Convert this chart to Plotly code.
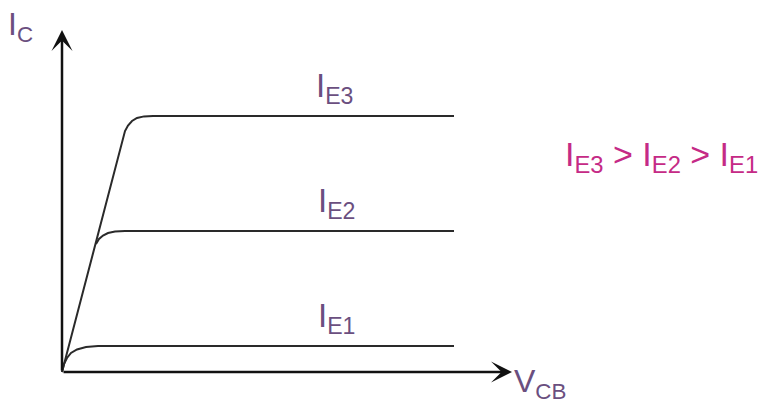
import plotly.graph_objects as go

# Schematic output characteristics (common-base): V_CB on x, I_C on y (arbitrary units)
vcb_e3 = [0, 61, 63, 66, 70, 75, 82, 91, 392]
ic_e3 = [0, 234, 241, 246.5, 251, 254, 255.6, 256, 256]

vcb_e2 = [34, 37, 41, 46, 53, 63, 392]
ic_e2 = [128, 133, 136.5, 139, 140.5, 141, 141]

vcb_e1 = [0, 2, 5, 9, 15, 24, 36, 392]
ic_e1 = [0, 8, 14, 19, 22.5, 25, 26, 26]

curve_labels = ["I<sub>E3</sub>", "I<sub>E2</sub>", "I<sub>E1</sub>"]
label_x = [252, 254, 254]
label_y = [261, 146, 31]

y_label = "I<sub>C</sub>"
x_label = "V<sub>CB</sub>"
order_text = "I<sub>E3</sub> > I<sub>E2</sub> > I<sub>E1</sub>"

x_axis_end = 450
y_axis_end = 342

LINE = "#2a2a2a"
LABEL = "#6b4f7f"
MAGENTA = "#c52a86"
FONT = "Liberation Sans, Arial, sans-serif"

fig = go.Figure()
for xs, ys in [(vcb_e3, ic_e3), (vcb_e2, ic_e2), (vcb_e1, ic_e1)]:
    fig.add_trace(go.Scatter(x=xs, y=ys, mode="lines",
                             line=dict(color=LINE, width=2),
                             hoverinfo="skip", showlegend=False))

# axes with arrowheads
for tx, ty in [(0, y_axis_end), (x_axis_end, 0)]:
    fig.add_annotation(x=tx, y=ty, ax=0, ay=0, xref="x", yref="y",
                       axref="x", ayref="y", showarrow=True, arrowhead=3,
                       arrowsize=1.4, arrowwidth=2.5, arrowcolor="#111", text="")

for t, lx, ly in zip(curve_labels, label_x, label_y):
    fig.add_annotation(x=lx, y=ly, text=t, showarrow=False, xanchor="left",
                       yanchor="bottom", font=dict(family=FONT, size=33, color=LABEL))

fig.add_annotation(x=-56, y=368, text=y_label, showarrow=False, xanchor="left",
                   yanchor="top", font=dict(family=FONT, size=32, color=LABEL))
fig.add_annotation(x=450, y=-11, text=x_label, showarrow=False, xanchor="left",
                   yanchor="middle", font=dict(family=FONT, size=32, color=LABEL))
fig.add_annotation(x=501, y=216, text=order_text, showarrow=False, xanchor="left",
                   yanchor="middle", font=dict(family=FONT, size=34, color=MAGENTA))

fig.update_xaxes(range=[-62, 710], visible=False, fixedrange=True)
fig.update_yaxes(range=[-33, 372], visible=False, fixedrange=True)
fig.update_layout(width=772, height=405, margin=dict(l=0, r=0, t=0, b=0),
                  plot_bgcolor="white", paper_bgcolor="white")

fig.write_html("out.html", config={"displayModeBar": False},
               post_script="document.body.style.margin='0';document.body.style.overflow='hidden';")
